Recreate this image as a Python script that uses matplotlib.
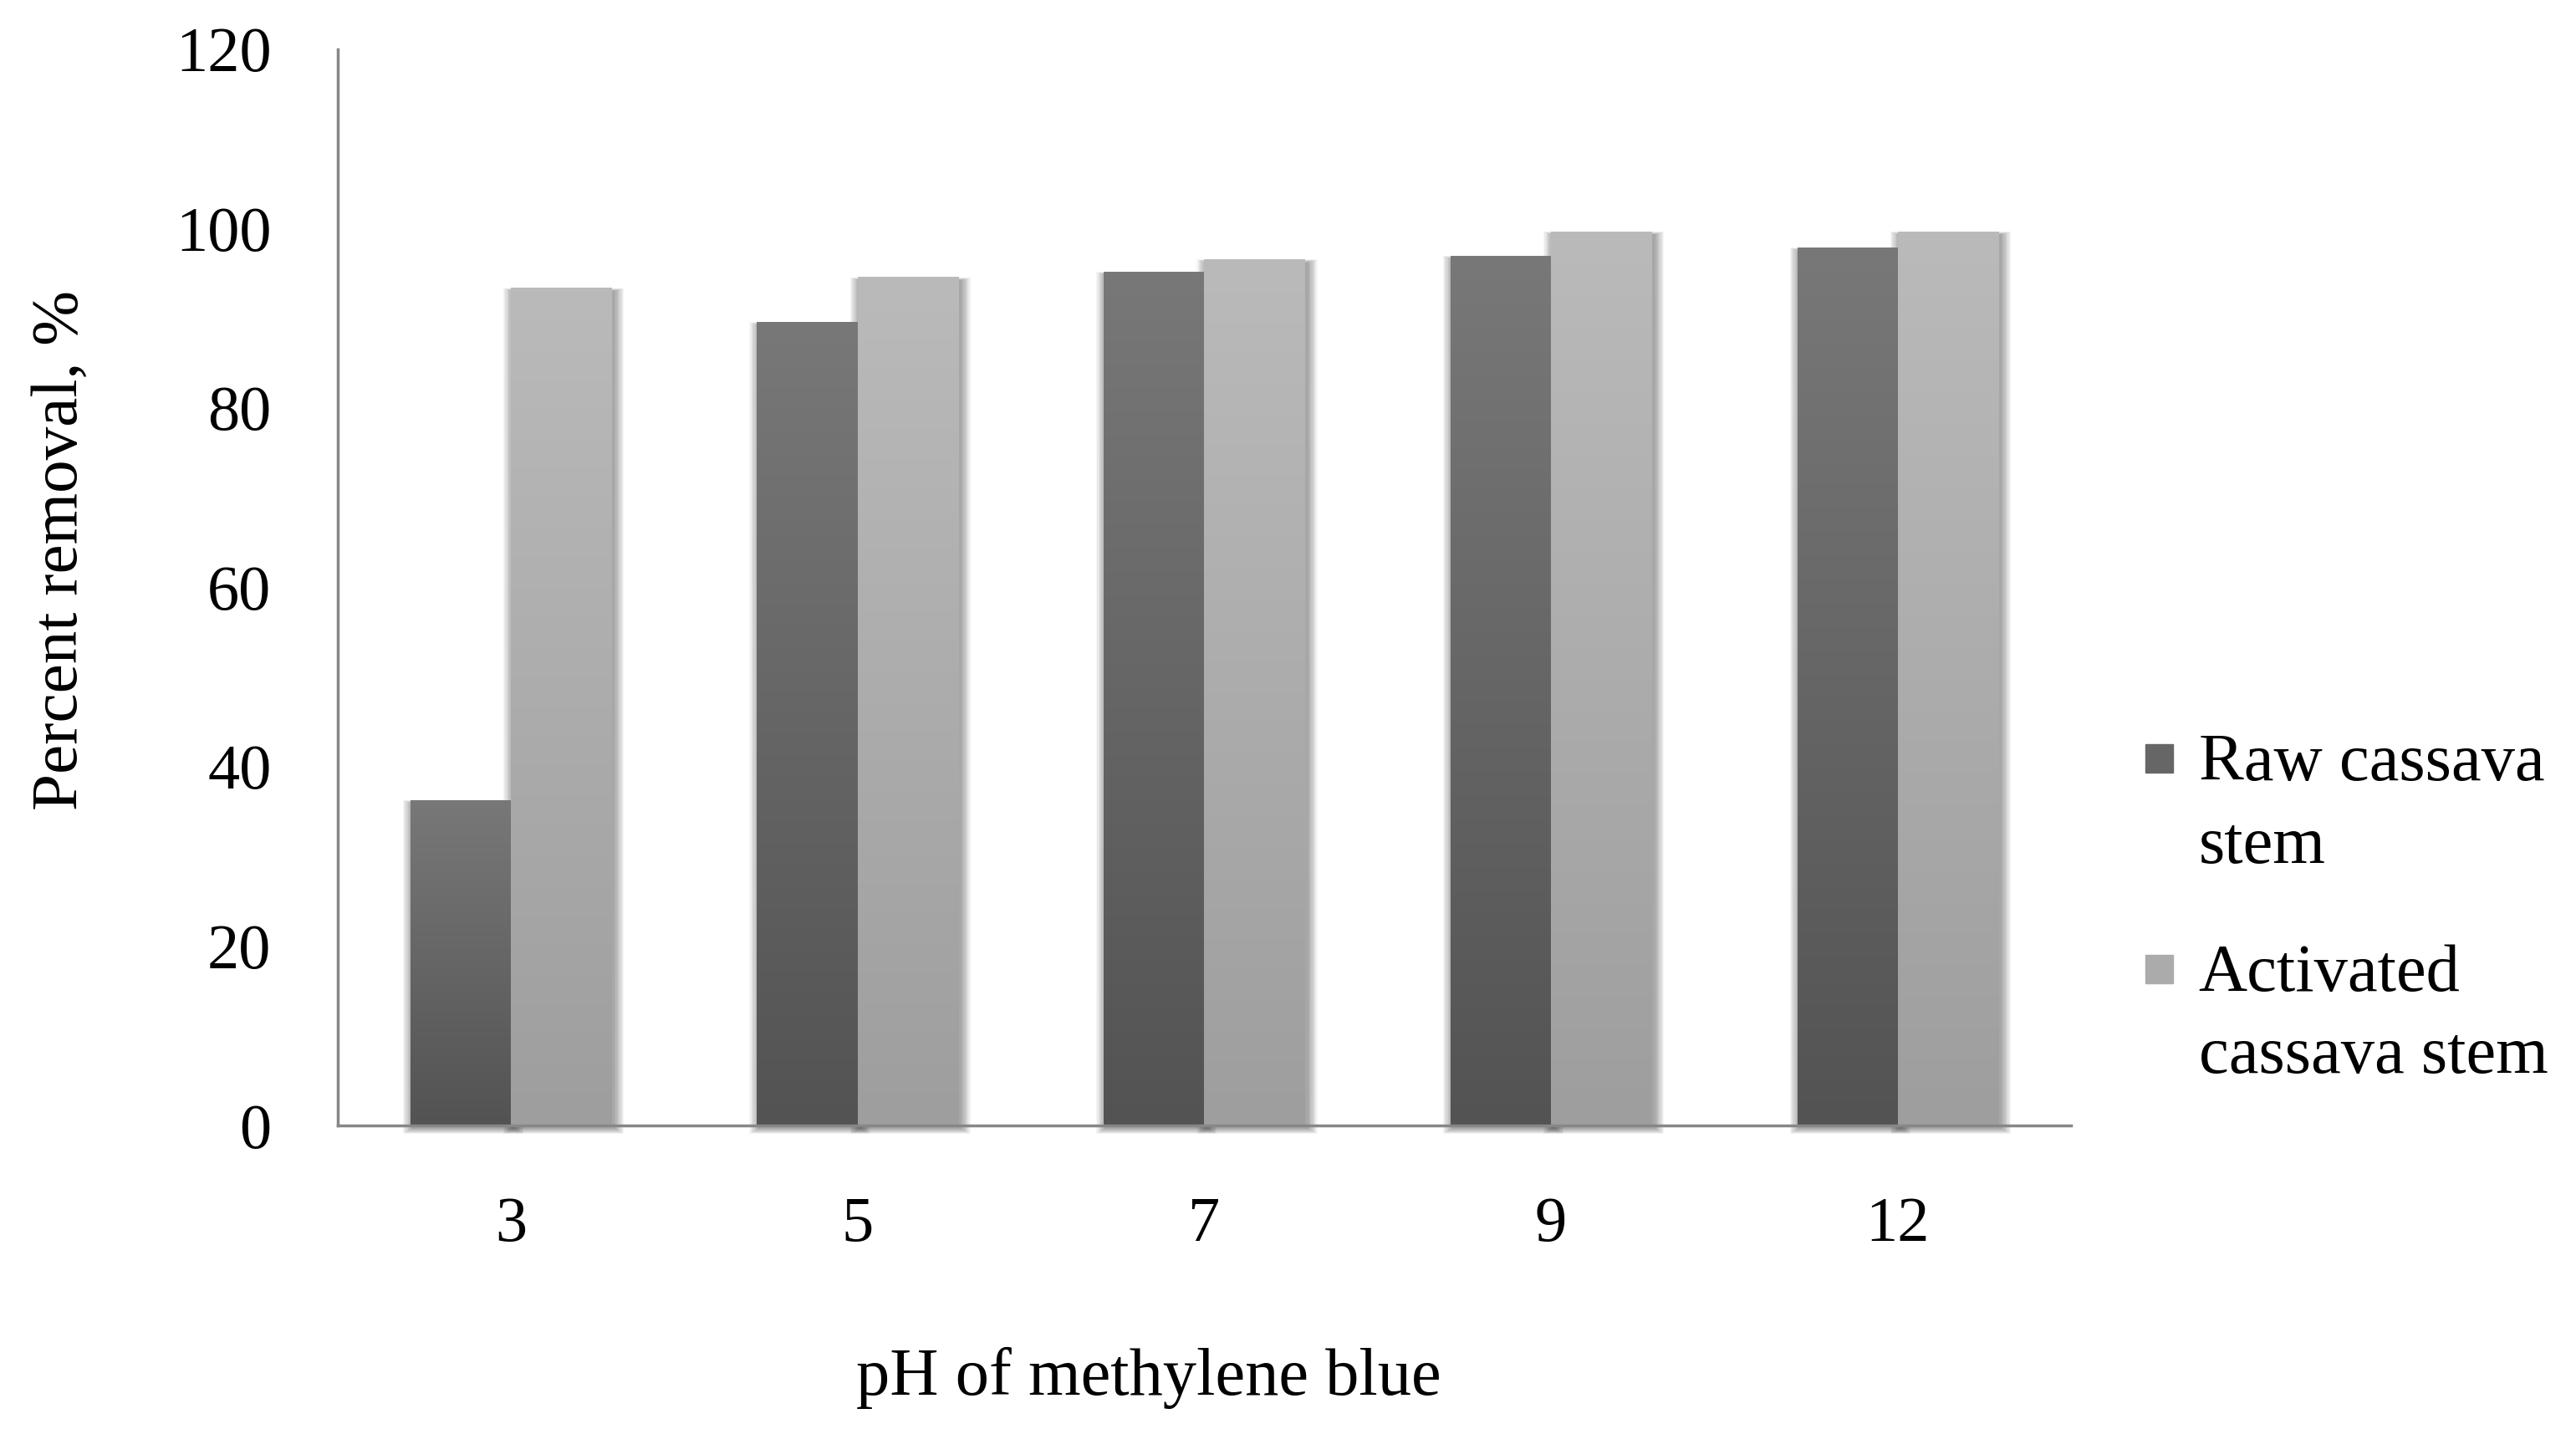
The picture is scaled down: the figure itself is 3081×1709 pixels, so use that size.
import numpy as np
import matplotlib
matplotlib.use("Agg")
import matplotlib.pyplot as plt
from matplotlib.patches import Rectangle

# data
ph_labels = ["3", "5", "7", "9", "12"]
raw_removal = [36.3, 89.6, 95.2, 97.0, 97.9]
activated_removal = [93.4, 94.6, 96.6, 99.7, 99.7]
series_names = ["Raw cassava", "stem"], ["Activated", "cassava stem"]

plt.rcParams['font.family'] = ['Liberation Serif', 'DejaVu Serif']

fig = plt.figure(figsize=(30.81, 17.09), dpi=100)
ax = fig.add_axes([0.131, 0.2124, 0.673, 0.7531])

x = np.arange(len(ph_labels))
bw = 0.29
raw_bars = ax.bar(x - bw / 2, raw_removal, bw, color="#656565", zorder=3)
act_bars = ax.bar(x + bw / 2, activated_removal, bw, color="#ababab", zorder=3)

# pixel -> data conversions for the soft shadow
px_x = 5 / 2073
px_y = 120 / 1287


def shade(bars, top, bottom):
    grad = np.linspace(0, 1, 256).reshape(-1, 1)
    cmap = matplotlib.colors.LinearSegmentedColormap.from_list("g", [bottom, top])
    for b in bars:
        bx, bwid, bh = b.get_x(), b.get_width(), b.get_height()
        # blurred drop shadow, pushed a little right and down
        for s in np.linspace(1, 12, 10):
            ax.add_patch(Rectangle((bx - s * px_x + 3 * px_x, -(3 + 0.6 * s) * px_y),
                                   bwid + 2 * s * px_x, bh + (3 + 0.6 * s) * px_y - 4 * px_y + 0.3 * s * px_y,
                                   color="black", alpha=0.04, lw=0, zorder=2,
                                   clip_on=False))
        im = ax.imshow(grad, extent=(bx, bx + bwid, 0, bh), origin="lower",
                       cmap=cmap, aspect="auto", zorder=4)
        im.set_clip_path(b)


shade(raw_bars, "#787878", "#535353")
shade(act_bars, "#bababa", "#9e9e9e")

ax.set_xlim(-0.5, len(ph_labels) - 0.5)
ax.set_ylim(0, 120)

ax.set_xticks(x)
ax.set_xticklabels(ph_labels)
ax.set_yticks(range(0, 121, 20))
ax.tick_params(axis="both", length=0, labelsize=55)
ax.tick_params(axis="x", pad=61)
ax.tick_params(axis="y", pad=57)

for side in ["top", "right"]:
    ax.spines[side].set_visible(False)
for side in ["left", "bottom"]:
    ax.spines[side].set_color("#878787")
    ax.spines[side].set_linewidth(2.5)
    ax.spines[side].set_zorder(6)

ax.set_ylabel("Percent removal, %", fontsize=57)
ax.yaxis.set_label_coords(-0.142, 0.535)
ax.set_xlabel("pH of methylene blue", fontsize=58)
ax.xaxis.set_label_coords(0.468, -0.206)

# legend drawn by hand so the swatch lines up with the first text line
leg_colors = ["#666666", "#ababab"]
swatch_y = [0.4593, 0.312]
baselines = [(0.4538, 0.3964), (0.3066, 0.2492)]
for lines, col, sy, bl in zip(series_names, leg_colors, swatch_y, baselines):
    fig.patches.append(Rectangle((0.833, sy), 0.0104, 0.0199,
                                 transform=fig.transFigure, color=col))
    for line, yb in zip(lines, bl):
        fig.text(0.8535, yb, line, fontsize=58, va="baseline", ha="left")

fig.savefig("out.png", dpi=100)
